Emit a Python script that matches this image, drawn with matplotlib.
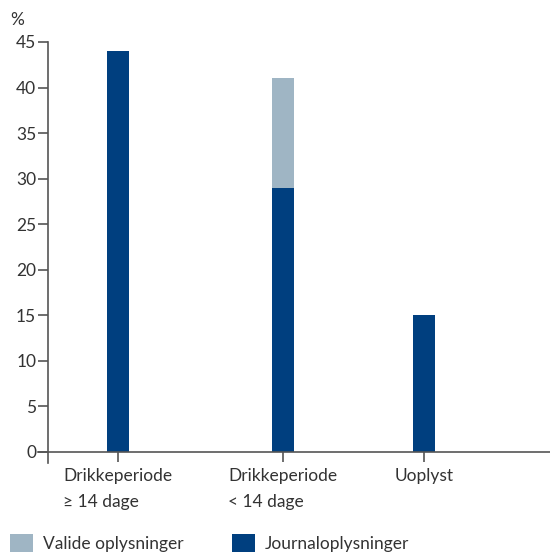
import numpy as np
import matplotlib.pyplot as plt

plt.rcParams['font.family'] = ['Lato', 'DejaVu Sans']

# data: share of cases per drinking-period group (%)
categories = ['Drikkeperiode\n\u2265 14 dage', 'Drikkeperiode\n< 14 dage', 'Uoplyst']
journal = [44, 29, 15]      # Journaloplysninger
valide = [0, 12, 0]         # Valide oplysninger, stacked on top
yticks = [0, 5, 10, 15, 20, 25, 30, 35, 40, 45]

# layout
xpos = [118, 283, 424]
dark = '#003f7f'
light = '#9fb5c4'
axcol = '#555555'
txtcol = '#333333'
fs = 12.5

fig = plt.figure(figsize=(5.5, 5.53), dpi=100)
W, H = 550, 553
ax = fig.add_axes([48/W, (H-452)/H, (550-48)/W, (452-42)/H])

ax.bar(xpos, journal, width=22, color=dark, label='Journaloplysninger')
ax.bar(xpos, valide, width=22, bottom=journal, color=light, label='Valide oplysninger')

ax.set_xlim(48, 550)
ax.set_ylim(0, 45)
for s in ax.spines.values():
    s.set_visible(False)

# axis lines, slightly overshooting each other at the origin
ax.plot([-10/502, 1], [0, 0], transform=ax.transAxes, color=axcol, lw=1.2, clip_on=False)
ax.plot([0, 0], [-11/410, 1], transform=ax.transAxes, color=axcol, lw=1.2, clip_on=False)

ax.set_yticks(yticks)
ax.set_xticks(xpos)
ax.set_xticklabels(categories, multialignment='left', linespacing=1.75)
ax.tick_params(axis='both', length=7.5, width=1.2, color=axcol, labelcolor=txtcol,
               labelsize=fs)
ax.tick_params(axis='y', pad=1)
ax.tick_params(axis='x', pad=4)

fig.text(10/W, 1 - 20/H, '%', fontsize=fs, color=txtcol, va='center', ha='left')

h1, l1 = ax.get_legend_handles_labels()
fig.legend([h1[1], h1[0]], [l1[1], l1[0]], loc='center left',
           bbox_to_anchor=(10/W, 1 - 543/H),
           ncol=2, frameon=False, fontsize=fs, handlelength=1.3, handleheight=1.3,
           handletextpad=0.6, columnspacing=2.8, borderaxespad=0, borderpad=0,
           labelcolor=txtcol)

fig.savefig('out.png', dpi=100)
